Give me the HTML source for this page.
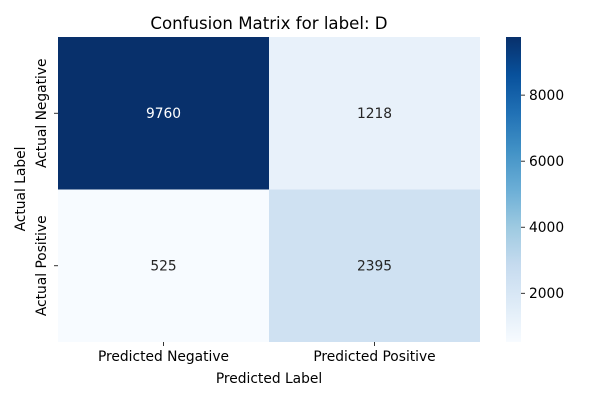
<!DOCTYPE html>
<html><head><meta charset="utf-8"><style>
body{margin:0;background:#fff;font-family:"Liberation Sans","DejaVu Sans",sans-serif}
svg text{font-family:"DejaVu Sans","Liberation Sans",sans-serif}
</style></head><body>
<svg id="c" width="600" height="400" viewBox="0 0 600 400"></svg>
<script>
const rowLabels=["Actual Negative","Actual Positive"];
const colLabels=["Predicted Negative","Predicted Positive"];
const values=[[9760,1218],[525,2395]];
const cbTicks=[2000,4000,6000,8000];
const NS="http://www.w3.org/2000/svg";
const svg=document.getElementById('c');
function mk(t,a,txt){const e=document.createElementNS(NS,t);for(const k in a)e.setAttribute(k,a[k]);if(txt!=null)e.textContent=txt;svg.appendChild(e);return e;}
const stops=["#f7fbff","#deebf7","#c6dbef","#9ecae1","#6baed6","#4292c6","#2171b5","#08519c","#08306b"];
function hex(h){return [1,3,5].map(i=>parseInt(h.substr(i,2),16));}
const flat=values.flat();const vmin=Math.min(...flat),vmax=Math.max(...flat);
function cmap(v){let t=(v-vmin)/(vmax-vmin);t=Math.max(0,Math.min(1,t));const p=t*8,i=Math.min(7,Math.floor(p)),f=p-i;const a=hex(stops[i]),b=hex(stops[i+1]);return `rgb(${a.map((x,k)=>Math.round(x+(b[k]-x)*f)).join(',')})`;}
const L=58,R=480,T=37,B=342;
const FS=13.8;
const cw=(R-L)/colLabels.length,ch=(B-T)/rowLabels.length;
const xc=j=>L+cw*(j+0.5), yc=i=>T+ch*(i+0.5);
values.forEach((row,i)=>row.forEach((v,j)=>{
 const r=mk('rect',{x:L+cw*j,y:T+ch*i,width:cw,height:ch,fill:cmap(v)});
 
 
 const t=mk('text',{x:xc(j),y:yc(i)+4.5,'text-anchor':'middle','font-size':FS,fill:(v-vmin)/(vmax-vmin)>0.5?'#fff':'#262626'},v);
 
 
}));
colLabels.forEach((c,j)=>{
 mk('line',{x1:xc(j),x2:xc(j),y1:B,y2:B+4,stroke:'#000','stroke-width':0.8});
 const t=mk('text',{x:xc(j),y:B+19,'text-anchor':'middle','font-size':FS,fill:'#000'},c);
 
 
});
rowLabels.forEach((r,i)=>{
 mk('line',{x1:L-4,x2:L,y1:yc(i),y2:yc(i),stroke:'#000','stroke-width':0.8});
 const t=mk('text',{x:0,y:0,'text-anchor':'middle','font-size':FS,fill:'#000',transform:`translate(${L-12},${yc(i)}) rotate(-90)`},r);
 
 
});
const CL=506,CR=521;
const defs=mk('defs',{});const g=document.createElementNS(NS,'linearGradient');g.setAttribute('id','gr');g.setAttribute('x1',0);g.setAttribute('x2',0);g.setAttribute('y1',1);g.setAttribute('y2',0);
stops.forEach((s,k)=>{const st=document.createElementNS(NS,'stop');st.setAttribute('offset',k/8);st.setAttribute('stop-color',s);g.appendChild(st);});
defs.appendChild(g);
const cb=mk('rect',{x:CL,y:T,width:CR-CL,height:B-T,fill:'url(#gr)'});


const cy=v=>B-(v-vmin)/(vmax-vmin)*(B-T);
cbTicks.forEach(v=>{
 mk('line',{x1:CR,x2:CR+4,y1:cy(v),y2:cy(v),stroke:'#000','stroke-width':0.8});
 const t=mk('text',{x:CR+8,y:cy(v)+4.8,'font-size':FS,fill:'#000'},v);
 
 
});
let t=mk('text',{x:269,y:29,'text-anchor':'middle','font-size':16.6,fill:'#000'},'Confusion Matrix for label: D');


t=mk('text',{x:269,y:383,'text-anchor':'middle','font-size':FS,fill:'#000'},'Predicted Label');


t=mk('text',{x:0,y:0,'text-anchor':'middle','font-size':FS,fill:'#000',transform:'translate(25,189) rotate(-90)'},'Actual Label');


</script>
</body></html>
